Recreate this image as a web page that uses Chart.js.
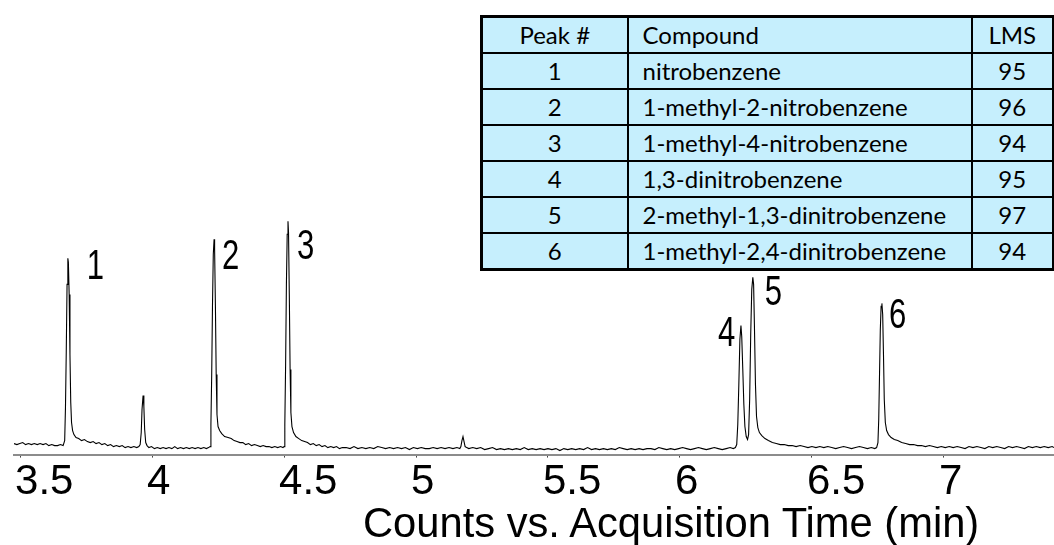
<!DOCTYPE html>
<html>
<head>
<meta charset="utf-8">
<script src="https://cdn.jsdelivr.net/npm/chart.js@4.4.1/dist/chart.umd.min.js"></script>
<style>
  body { margin: 0; background: #fff; }
  #wrap { position: relative; width: 1054px; height: 545px; overflow: hidden; }
  #chrom { position: absolute; left: 0; top: 0; }
  #xtitle {
    position: absolute; left: 363px; top: 502px;
    font-family: 'Liberation Sans', Arial, sans-serif; font-size: 41.7px; line-height: 1;
    white-space: nowrap; color: #000;
  }
  #peaks {
    position: absolute; left: 480px; top: 15px; width: 572px;
    table-layout: fixed;
    border-collapse: collapse; border: 3px solid #000;
    font-family: Lato, 'Open Sans', sans-serif; font-size: 24px; color: #000;
    background: #c6effd;
  }
  #peaks td { border: 2px solid #000; height: 34px; padding: 0 14px; line-height: 34px; white-space: nowrap; overflow: hidden; }
  #peaks td.c { text-align: center; padding: 0; }
</style>
</head>
<body>
<div id="wrap">
  <canvas id="chrom" width="1054" height="545"></canvas>
  <table id="peaks">
    <colgroup><col style="width:146px"><col style="width:344px"><col style="width:82px"></colgroup>
    <tbody id="peakRows"></tbody>
  </table>
  <div id="xtitle">Counts vs. Acquisition Time (min)</div>
</div>
<script>
// retention time axis (min)
const tickValues = [3.5, 4, 4.5, 5, 5.5, 6, 6.5, 7];
const tickLabels = ['3.5', '4', '4.5', '5', '5.5', '6', '6.5', '7'];

// trace
const timeMin = [
  3.477, 3.488, 3.499, 3.510, 3.521, 3.532, 3.543, 3.554, 3.565, 3.576, 3.587, 3.598, 3.609, 3.620, 3.631, 3.642, 3.653, 3.663,
  3.669, 3.672, 3.675, 3.678, 3.681, 3.683, 3.686, 3.689, 3.692, 3.695, 3.699, 3.704, 3.712, 3.722, 3.733, 3.744, 3.755, 3.766,
  3.777, 3.788, 3.799, 3.810, 3.821, 3.832, 3.843, 3.854, 3.865, 3.876, 3.887, 3.898, 3.909, 3.920, 3.931, 3.942, 3.950,
  3.955, 3.959, 3.962, 3.966, 3.969, 3.972, 3.976, 3.981, 3.988, 3.998, 4.009, 4.020, 4.031, 4.042, 4.053, 4.064, 4.075,
  4.086, 4.097, 4.108, 4.119, 4.130, 4.141, 4.152, 4.163, 4.174, 4.185, 4.196, 4.206, 4.214,
  4.220, 4.223, 4.226, 4.229, 4.232, 4.235, 4.237, 4.240, 4.243, 4.246, 4.250, 4.256, 4.264, 4.275, 4.288, 4.300, 4.311,
  4.322, 4.333, 4.344, 4.355, 4.366, 4.377, 4.388, 4.399, 4.410, 4.421, 4.432, 4.443, 4.454, 4.465, 4.476, 4.487, 4.496,
  4.500, 4.503, 4.506, 4.509, 4.512, 4.515, 4.517, 4.520, 4.523, 4.526, 4.530, 4.536, 4.545, 4.556, 4.567, 4.578, 4.589,
  4.600, 4.611, 4.622, 4.633, 4.644, 4.655, 4.666, 4.677, 4.688, 4.699, 4.710, 4.721,
  4.735, 4.750, 4.765, 4.780, 4.795, 4.810, 4.825, 4.840, 4.855, 4.870, 4.885, 4.900, 4.915, 4.930, 4.945, 4.960, 4.975,
  4.990, 5.005, 5.020, 5.035, 5.050, 5.065, 5.080, 5.095, 5.110, 5.125, 5.140, 5.155, 5.166,
  5.170, 5.174, 5.178, 5.182, 5.186, 5.192, 5.200,
  5.215, 5.230, 5.245, 5.260, 5.275, 5.290, 5.305, 5.320, 5.335, 5.350, 5.365, 5.380, 5.395, 5.410, 5.425, 5.440, 5.455,
  5.470, 5.485, 5.500, 5.515, 5.530, 5.545, 5.560, 5.575, 5.590, 5.605, 5.620, 5.635, 5.650, 5.665, 5.680, 5.695, 5.710,
  5.725, 5.740, 5.755, 5.770, 5.785, 5.800, 5.815, 5.830, 5.845, 5.860, 5.875, 5.890, 5.905, 5.920, 5.935, 5.950, 5.965,
  5.980, 5.995, 6.010, 6.025, 6.040, 6.055, 6.070, 6.085, 6.100, 6.115, 6.130, 6.145, 6.160, 6.175, 6.190, 6.202, 6.210,
  6.215, 6.219, 6.223, 6.227, 6.231, 6.234, 6.238, 6.242, 6.246, 6.251, 6.256, 6.260, 6.264, 6.268, 6.272, 6.276, 6.279,
  6.282, 6.286, 6.290, 6.295, 6.301, 6.310, 6.322, 6.335, 6.350, 6.365, 6.380, 6.395, 6.410, 6.425, 6.440, 6.455, 6.470,
  6.485, 6.500, 6.515, 6.530, 6.545, 6.560, 6.575, 6.590, 6.605, 6.620, 6.635, 6.650, 6.665, 6.680, 6.695, 6.710, 6.725,
  6.738, 6.745,
  6.750, 6.753, 6.756, 6.759, 6.762, 6.765, 6.768, 6.771, 6.774, 6.778, 6.783, 6.790, 6.800, 6.812, 6.825, 6.840, 6.855,
  6.870, 6.885, 6.900, 6.915, 6.930, 6.945, 6.960, 6.975, 6.990, 7.005, 7.020, 7.035, 7.050, 7.065, 7.080, 7.095, 7.110,
  7.125, 7.140, 7.155, 7.170, 7.185, 7.200, 7.215, 7.230, 7.245, 7.260, 7.275, 7.290, 7.305, 7.320, 7.335, 7.350, 7.365,
  7.380, 7.395, 7.410, 7.417
];
const abundance = [
  11, 10, 11, 12, 10, 11, 10, 11, 10, 11, 10, 11, 9, 10, 9, 9, 10, 9,
  14, 47, 103, 170, 196, 192, 160, 100, 52, 32, 24, 20, 17, 16, 14, 15, 13, 12,
  13, 11, 12, 10, 11, 9, 10, 8, 9, 8, 9, 7, 8, 7, 8, 7, 8,
  10, 22, 45, 59, 48, 25, 12, 9, 7, 8, 6, 7, 6, 7, 6, 7, 6,
  8, 6, 7, 6, 7, 6, 7, 6, 7, 6, 7, 6, 7,
  8, 30, 80, 150, 200, 215, 205, 150, 80, 40, 28, 24, 21, 18, 17, 16, 14,
  13, 12, 12, 10, 11, 9, 10, 9, 8, 9, 8, 8, 7, 8, 7, 8, 7,
  8, 30, 90, 170, 220, 233, 222, 160, 85, 42, 28, 22, 18, 16, 14, 13, 12,
  10, 11, 9, 10, 8, 9, 7, 8, 7, 8, 6, 7,
  7, 6, 8, 6, 7, 6, 7, 6, 8, 7, 6, 7, 6, 7, 6, 7, 5,
  7, 6, 7, 6, 6, 7, 6, 7, 6, 7, 6, 7, 6,
  8, 14, 18, 13, 8, 7, 6,
  7, 6, 7, 5, 6, 7, 5, 6, 5, 6, 5, 6, 5, 7, 5, 6, 5,
  6, 5, 6, 5, 6, 4, 6, 5, 6, 5, 6, 5, 7, 5, 6, 5, 6,
  5, 6, 5, 7, 6, 5, 6, 5, 6, 5, 6, 6, 5, 7, 6, 5, 6,
  5, 6, 7, 6, 5, 6, 7, 6, 5, 6, 7, 6, 5, 6, 7, 6, 7,
  10, 30, 70, 115, 129, 118, 85, 50, 28, 18, 15, 20, 55, 120, 165, 177, 170,
  130, 70, 38, 27, 22, 19, 16, 14, 12, 11, 10, 10, 9, 9, 8, 9, 8,
  7, 8, 7, 8, 7, 8, 7, 6, 7, 8, 7, 6, 7, 8, 7, 6, 7,
  6, 7,
  12, 35, 80, 125, 148, 151, 140, 100, 55, 32, 24, 20, 17, 15, 14, 12, 11,
  10, 10, 9, 9, 8, 9, 8, 7, 8, 7, 8, 7, 8, 7, 6, 8, 7,
  8, 7, 6, 8, 7, 8, 7, 6, 8, 7, 8, 7, 6, 8, 7, 8, 7,
  8, 7, 8, 7
];

// peak apexes and their numbers
const peakNumbers = ['1', '2', '3', '4', '5', '6'];
const peakTimes = [3.681, 4.235, 4.515, 6.231, 6.276, 6.765];
const peakHeights = [196, 215, 233, 129, 177, 151];

// peak table
const tableHeader = ['Peak #', 'Compound', 'LMS'];
const compounds = ['nitrobenzene', '1-methyl-2-nitrobenzene', '1-methyl-4-nitrobenzene',
  '1,3-dinitrobenzene', '2-methyl-1,3-dinitrobenzene', '1-methyl-2,4-dinitrobenzene'];
const lmsScores = [95, 96, 94, 95, 97, 94];

// build table
const rows = document.getElementById('peakRows');
let html = '<tr><td class="c">' + tableHeader[0] + '</td><td>' + tableHeader[1] + '</td><td class="c">' + tableHeader[2] + '</td></tr>';
for (let i = 0; i < compounds.length; i++) {
  html += '<tr><td class="c">' + peakNumbers[i] + '</td><td>' + compounds[i] + '</td><td class="c">' + lmsScores[i] + '</td></tr>';
}
rows.innerHTML = html;

// pixel offsets of each number from its apex (left edge, top of digit)
const labelOffsets = [[19, -9], [8, 0], [9, 8], [-23, -9], [12, -2], [7, -5]];

const peakLabelPlugin = {
  id: 'peakLabels',
  afterDatasetsDraw(chart) {
    const ctx = chart.ctx;
    const xs = chart.scales.x, ys = chart.scales.y;
    ctx.save();
    ctx.fillStyle = '#000';
    ctx.font = "42px 'Liberation Sans', Arial, sans-serif";
    ctx.textAlign = 'left';
    ctx.textBaseline = 'alphabetic';
    for (let i = 0; i < peakNumbers.length; i++) {
      const px = xs.getPixelForValue(peakTimes[i]) + labelOffsets[i][0];
      const py = ys.getPixelForValue(peakHeights[i]) + labelOffsets[i][1] + 30;
      // condensed digits, like the instrument's narrow font
      ctx.save();
      ctx.translate(px, py);
      ctx.scale(0.74, 1);
      ctx.fillText(peakNumbers[i], 0, 0);
      ctx.restore();
    }
    ctx.restore();
  }
};

const ctx = document.getElementById('chrom').getContext('2d');
const chromChart = new Chart(ctx, {
  type: 'line',
  data: {
    datasets: [{
      data: timeMin.map((t, i) => ({ x: t, y: abundance[i] })),
      borderColor: '#000',
      borderWidth: 1.1,
      pointRadius: 0,
      tension: 0,
      fill: false
    }]
  },
  options: {
    responsive: false,
    animation: false,
    layout: { padding: { left: 14, right: 0, top: 0, bottom: 37 } },
    plugins: { legend: { display: false }, tooltip: { enabled: false } },
    scales: {
      x: {
        type: 'linear',
        min: 3.477,
        max: 7.417,
        afterBuildTicks: (scale) => { scale.ticks = tickValues.map(v => ({ value: v })); },
        ticks: {
          align: 'start',
          labelOffset: -5,
          padding: 0,
          maxRotation: 0,
          autoSkip: false,
          color: '#000',
          font: { family: "'Liberation Sans', Arial, sans-serif", size: 42 },
          callback: (v, i) => tickLabels[i]
        },
        grid: { drawOnChartArea: false, drawTicks: true, tickLength: 3, color: '#444' },
        border: { display: true, color: '#8c8c8c', width: 2 }
      },
      y: { display: false, min: 0, max: 454 }
    }
  },
  plugins: [peakLabelPlugin]
});
</script>
</body>
</html>
